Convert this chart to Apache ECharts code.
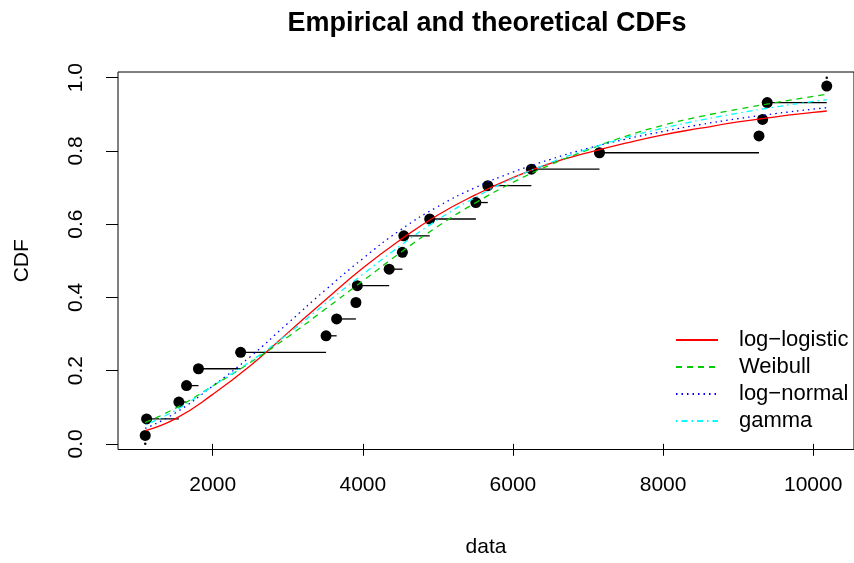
<!DOCTYPE html>
<html>
<head>
<meta charset="utf-8">
<script src="https://cdn.jsdelivr.net/npm/echarts@6/dist/echarts.min.js"></script>
<style>
html,body{margin:0;padding:0;background:#fff;}
#chart{width:854px;height:563px;}
</style>
</head>
<body>
<div id="chart"></div>
<script>
// Empirical data (sorted observations) and plotting positions
const obsX = [1101, 1119, 1549, 1651, 1810, 2372, 3510, 3651, 3908, 3926, 4351, 4527, 4546, 4891, 5506, 5665, 6246, 7153, 9278, 9326, 9388, 10181];
const obsY = [0.023, 0.068, 0.114, 0.159, 0.205, 0.250, 0.295, 0.341, 0.386, 0.432, 0.477, 0.523, 0.568, 0.614, 0.659, 0.705, 0.750, 0.795, 0.841, 0.886, 0.932, 0.977];
// end marks of the step function
const endX = [1101, 10181];
const endY = [0.0, 1.0];

// Fitted CDF curves
const curveX   = [1101, 1500, 2000, 2500, 3000, 3500, 4000, 4500, 5000, 5500, 6000, 6500, 7000, 7500, 8000, 8500, 9000, 9500, 10000, 10181];
const llogisY  = [0.036, 0.068, 0.135, 0.213, 0.303, 0.393, 0.480, 0.557, 0.625, 0.680, 0.727, 0.766, 0.795, 0.821, 0.844, 0.862, 0.879, 0.893, 0.905, 0.909];
const weibullY = [0.058, 0.097, 0.158, 0.222, 0.292, 0.368, 0.445, 0.522, 0.594, 0.658, 0.714, 0.762, 0.803, 0.840, 0.870, 0.894, 0.914, 0.932, 0.949, 0.955];
const lnormY   = [0.042, 0.084, 0.158, 0.238, 0.329, 0.420, 0.506, 0.584, 0.648, 0.700, 0.742, 0.777, 0.807, 0.832, 0.853, 0.872, 0.888, 0.902, 0.914, 0.918];
const gammaY   = [0.052, 0.091, 0.158, 0.225, 0.300, 0.383, 0.463, 0.541, 0.612, 0.673, 0.725, 0.768, 0.805, 0.836, 0.862, 0.884, 0.903, 0.920, 0.935, 0.940];

const seriesNames = ['log\u2212logistic', 'Weibull', 'log\u2212normal', 'gamma'];
const xTicks = [2000, 4000, 6000, 8000, 10000];
const yTicks = [0, 0.2, 0.4, 0.6, 0.8, 1.0];

const FONT = '"Liberation Sans", Arial, Helvetica, sans-serif';

const segs = [];
for (let i = 0; i < obsX.length - 1; i++) segs.push([obsX[i], obsX[i + 1], obsY[i]]);
const pts = obsX.map((x, i) => [x, obsY[i]]);
const ends = endX.map((x, i) => [x, endY[i]]);
const mk = ys => curveX.map((x, i) => [x, ys[i]]);

const curveDefs = [
  { name: seriesNames[0], ys: llogisY,  color: '#FF0000', type: 'solid' },
  { name: seriesNames[1], ys: weibullY, color: '#00CD00', type: [6, 5] },
  { name: seriesNames[2], ys: lnormY,   color: '#0000FF', type: [1.5, 4] },
  { name: seriesNames[3], ys: gammaY,   color: '#00FFFF', type: [1.5, 4, 6, 4] }
];

const chart = echarts.init(document.getElementById('chart'), null, { renderer: 'canvas' });

const option = {
  animation: false,
  backgroundColor: '#fff',
  title: {
    text: 'Empirical and theoretical CDFs',
    left: 482, top: 5, textAlign: 'center',
    textStyle: { fontFamily: FONT, fontSize: 27, fontWeight: 'bold', color: '#000' }
  },
  legend: {
    orient: 'vertical', left: 675, top: 329, padding: 0,
    itemWidth: 42, itemHeight: 22, itemGap: 5,
    data: seriesNames,
    itemStyle: { opacity: 0 },
    textStyle: { fontFamily: FONT, fontSize: 22, color: '#000', padding: [0, 0, 0, 16] }
  },
  grid: {
    left: 118, top: 72, width: 738, height: 378,
    show: true, borderColor: '#000', borderWidth: 1, backgroundColor: 'transparent',
    containLabel: false
  },
  xAxis: {
    type: 'value', min: 738, max: 10544,
    name: 'data', nameLocation: 'middle', nameGap: 98,
    nameTextStyle: { fontFamily: FONT, fontSize: 21, color: '#000', verticalAlign: 'middle' },
    axisLine: { show: false },
    splitLine: { show: false },
    axisTick: { show: true, length: 12, customValues: xTicks, lineStyle: { color: '#000', width: 1 } },
    axisLabel: { customValues: xTicks, margin: 36, fontFamily: FONT, fontSize: 21, color: '#000', verticalAlign: 'middle',
      formatter: v => String(Math.round(v)) }
  },
  yAxis: {
    type: 'value', min: -0.0155, max: 1.0155,
    name: 'CDF', nameLocation: 'middle', nameGap: 96, nameRotate: 90,
    nameTextStyle: { fontFamily: FONT, fontSize: 21, color: '#000', verticalAlign: 'middle' },
    axisLine: { show: false },
    splitLine: { show: false },
    axisTick: { show: true, length: 12, customValues: yTicks, lineStyle: { color: '#000', width: 1 } },
    axisLabel: {
      customValues: yTicks, margin: 42, rotate: 90, align: 'center', verticalAlign: 'middle',
      fontFamily: FONT, fontSize: 21, color: '#000',
      formatter: v => Number(v).toFixed(1)
    }
  },
  series: [
    {
      type: 'custom', name: 'ecdf-steps', silent: true,
      data: segs, encode: { x: [0, 1], y: 2 },
      renderItem: (params, api) => {
        const a = api.coord([api.value(0), api.value(2)]);
        const b = api.coord([api.value(1), api.value(2)]);
        return { type: 'line', shape: { x1: a[0], y1: a[1], x2: b[0], y2: b[1] }, style: { stroke: '#000', lineWidth: 1.3 } };
      },
      z: 2
    },
    {
      type: 'scatter', name: 'ecdf-points', data: pts, symbol: 'circle', symbolSize: 11,
      itemStyle: { color: '#000', opacity: 1 }, silent: true, z: 3
    },
    {
      type: 'scatter', name: 'ecdf-ends', data: ends, symbol: 'circle', symbolSize: 2.5,
      itemStyle: { color: '#000', opacity: 1 }, silent: true, z: 3
    }
  ].concat(curveDefs.map(c => ({
    type: 'line', name: c.name, data: mk(c.ys), showSymbol: false, symbol: 'none',
    smooth: 0.5, silent: true, z: 4,
    lineStyle: { color: c.color, width: 1.3, type: c.type },
    itemStyle: { color: c.color }
  })))
};

chart.setOption(option);
</script>
</body>
</html>
